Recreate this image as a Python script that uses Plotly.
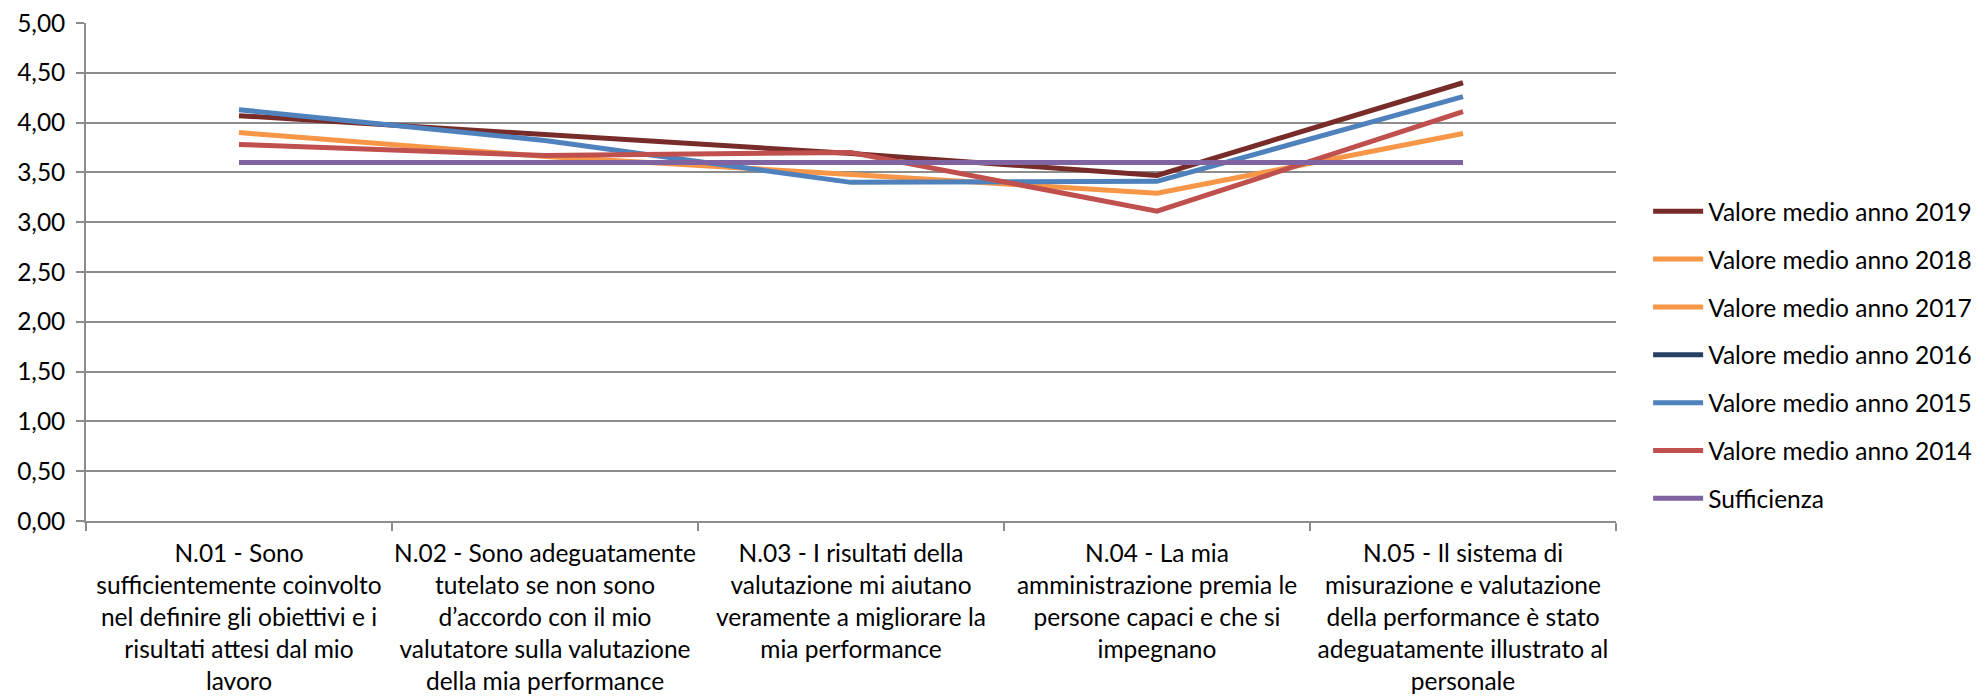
import plotly.graph_objects as go

# ---- data ----
categories = ["N.01", "N.02", "N.03", "N.04", "N.05"]
tick_labels = [
    "N.01 - Sono<br>sufficientemente coinvolto<br>nel definire gli obiettivi e i<br>risultati attesi dal mio<br>lavoro",
    "N.02 - Sono adeguatamente<br>tutelato se non sono<br>d’accordo con il mio<br>valutatore sulla valutazione<br>della mia performance",
    "N.03 - I risultati della<br>valutazione mi aiutano<br>veramente a migliorare la<br>mia performance",
    "N.04 - La mia<br>amministrazione premia le<br>persone capaci e che si<br>impegnano",
    "N.05 - Il sistema di<br>misurazione e valutazione<br>della performance è stato<br>adeguatamente illustrato al<br>personale",
]
series_names = [
    "Valore medio anno 2019",
    "Valore medio anno 2018",
    "Valore medio anno 2017",
    "Valore medio anno 2016",
    "Valore medio anno 2015",
    "Valore medio anno 2014",
    "Sufficienza",
]
v2019 = [4.07, 3.88, 3.69, 3.47, 4.40]
v2018 = [3.90, 3.66, 3.48, 3.29, 3.89]
v2017 = [None, None, None, None, None]
v2016 = [None, None, None, None, None]
v2015 = [4.13, 3.82, 3.40, 3.41, 4.26]
v2014 = [3.78, 3.67, 3.70, 3.11, 4.11]
sufficienza = [3.60, 3.60, 3.60, 3.60, 3.60]
y_ticks = [0, 0.5, 1, 1.5, 2, 2.5, 3, 3.5, 4, 4.5, 5]

series_values = [v2019, v2018, v2017, v2016, v2015, v2014, sufficienza]
colors = ["#772C2A", "#F79646", "#F79646", "#254061", "#4F81BD", "#C0504D", "#8064A2"]

FONT = "Lato"
FS = 24.5
fig = go.Figure()
for i, (name, vals, col) in enumerate(zip(series_names, series_values, colors)):
    fig.add_trace(go.Scatter(
        x=categories, y=vals, name=name, mode="lines",
        line=dict(color=col, width=5),
        legendgroup=f"g{i}",
        showlegend=True,
    ))

grid_col = "#8C8C8C"
# page body has an 8px default margin, so the figure is offset by 8px
fig.update_layout(
    template="none",
    width=1978, height=689,
    margin=dict(l=78, r=370, t=15, b=176, autoexpand=False),
    paper_bgcolor="white", plot_bgcolor="white",
    separators=",.",
    font=dict(family=FONT, size=FS, color="#000000"),
    showlegend=True,
    legend=dict(
        x=1.021, xanchor="left", y=0.667, yanchor="top",
        font=dict(family=FONT, size=FS, color="#000000"),
        tracegroupgap=13, bgcolor="rgba(0,0,0,0)",
        itemwidth=50,
    ),
    xaxis=dict(
        type="category", range=[-0.5, 4.5], automargin=False,
        tickvals=categories, ticktext=tick_labels, tickangle=0,
        tickson="boundaries", ticks="outside", ticklen=8, tickcolor=grid_col, tickwidth=1.5,
        ticklabelstandoff=10, ticklabeloverflow="allow",
        showline=True, linecolor=grid_col, linewidth=1.5,
        showgrid=False, tickfont=dict(family=FONT, size=FS),
        fixedrange=True,
    ),
    yaxis=dict(
        range=[0, 5], tickvals=y_ticks, tickformat=".2f", automargin=False,
        ticks="outside", ticklen=8, tickcolor=grid_col, tickwidth=1.5,
        ticklabelstandoff=6, ticklabeloverflow="allow",
        showline=True, linecolor=grid_col, linewidth=1.5,
        showgrid=True, gridcolor=grid_col, gridwidth=1.5,
        zeroline=False, tickfont=dict(family=FONT, size=FS),
        fixedrange=True,
    ),
)

fig.write_html("out.html", config={"displayModeBar": False})
